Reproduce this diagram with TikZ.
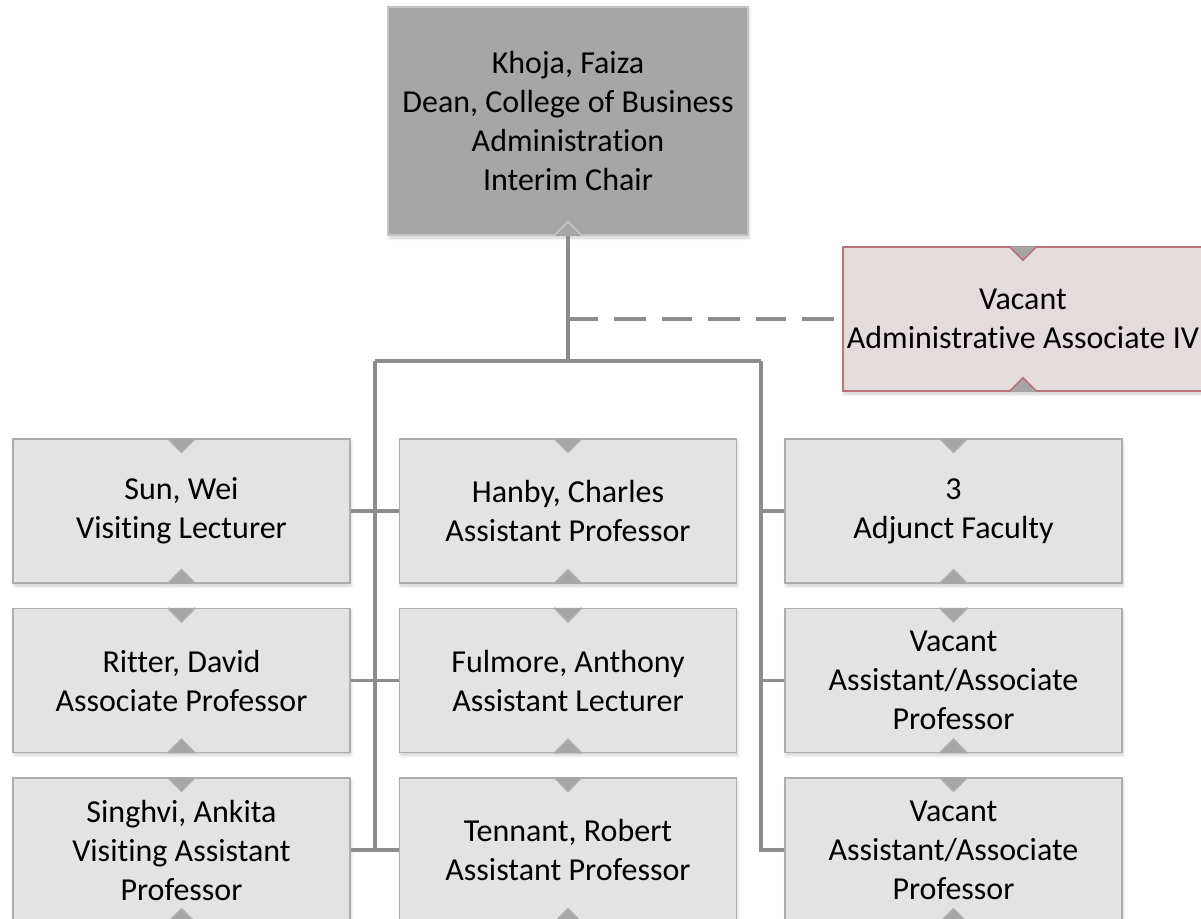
\documentclass[tikz,border=0pt]{standalone}
\usepackage{fontspec}
\setmainfont{Carlito}[Ligatures=NoCommon]
\usepackage{tikz}
\usetikzlibrary{positioning,calc,shadows.blur}

\definecolor{chiefgray}{HTML}{A6A6A6}
\definecolor{chiefline}{HTML}{C4C4C4}
\definecolor{staffgray}{HTML}{E3E3E3}
\definecolor{staffline}{HTML}{ADADAD}
\definecolor{vacfill}{HTML}{E4DCDC}
\definecolor{vacline}{HTML}{B9737A}
\definecolor{linkgray}{HTML}{8C8C8C}

\begin{document}
\begin{tikzpicture}[
    staff/.style={draw=staffline, fill=staffgray, line width=1.5pt, minimum width=337pt, minimum height=144pt, inner sep=0pt, align=center, font=\fontsize{32}{39}\selectfont, blur shadow={shadow xshift=1pt, shadow yshift=-3pt, shadow blur radius=3pt, shadow opacity=18}},
    chief/.style={staff, draw=chiefline, fill=chiefgray, minimum width=360pt, minimum height=228pt},
    vacbox/.style={staff, draw=vacline, fill=vacfill, minimum width=360pt},
    link/.style={draw=linkgray, line width=3.5pt},
    node distance=24pt and 48pt]
    \useasboundingbox (0,0) rectangle (1201pt,-918pt);
    % boxes
    \node[chief] (khoja) at (568pt,-121pt) {Khoja, Faiza\\ Dean, College of Business\\ Administration\\ Interim Chair};
    \node[vacbox] (vacadmin) at (1023pt,-319pt) {Vacant\\ Administrative Associate IV};
    \node[staff] (hanby) at (568pt,-511pt) {Hanby, Charles\\ Assistant Professor};
    \node[staff,left=of hanby] (sun) {Sun, Wei\\ Visiting Lecturer};
    \node[staff,right=47pt of hanby] (adjunct) {3\\ Adjunct Faculty};
    \node[staff,below=of hanby] (fulmore) {Fulmore, Anthony\\ Assistant Lecturer};
    \node[staff,below=of sun] (ritter) {Ritter, David\\ Associate Professor};
    \node[staff,below=of adjunct] (vacprof1) {Vacant\\ Assistant/Associate\\ Professor};
    \node[staff,below=of fulmore] (tennant) {Tennant, Robert\\ Assistant Professor};
    \node[staff,below=of ritter] (singhvi) {Singhvi, Ankita\\ Visiting Assistant\\ Professor};
    \node[staff,below=of vacprof1] (vacprof2) {Vacant\\ Assistant/Associate\\ Professor};
    % notches
    \foreach \n/\c in {vacadmin/vacline,sun/staffline,hanby/staffline,adjunct/staffline,ritter/staffline,fulmore/staffline,vacprof1/staffline,singhvi/staffline,tennant/staffline,vacprof2/staffline} {
        \fill[chiefgray] (\n.north) ++(-14pt,0) -- ++(14pt,-14pt) -- ++(14pt,14pt) -- cycle;
        \draw[\c, line width=1.5pt] (\n.north) ++(-14pt,0) -- ++(14pt,-14pt) -- ++(14pt,14pt);
    }
    \foreach \n/\c in {khoja/chiefline,vacadmin/vacline,sun/staffline,hanby/staffline,adjunct/staffline,ritter/staffline,fulmore/staffline,vacprof1/staffline,singhvi/staffline,tennant/staffline,vacprof2/staffline} {
        \fill[chiefgray] (\n.south) ++(-14pt,0) -- ++(14pt,14pt) -- ++(14pt,-14pt) -- cycle;
        \draw[\c, line width=1.5pt] (\n.south) ++(-14pt,0) -- ++(14pt,14pt) -- ++(14pt,-14pt);
    }
    % connectors
    \coordinate (bus) at ($(khoja.south)+(0,-125pt)$);
    \coordinate (spineL) at ($(sun.east)!0.5!(hanby.west)$);
    \coordinate (spineR) at ($(hanby.east)!0.5!(adjunct.west)$);
    \draw[link] (khoja.south) -- (bus);
    \draw[link, dash pattern=on 30pt off 16pt on 32pt off 16pt] (khoja.south |- vacadmin) -- (vacadmin.west);
    \draw[link] (bus -| spineL) -- (bus -| spineR);
    \draw[link] (bus -| spineL) |- (tennant.west);
    \draw[link] (bus -| spineR) |- (vacprof2.west);
    \draw[link] (sun.east) -- (hanby.west);
    \draw[link] (ritter.east) -- (fulmore.west);
    \draw[link] (singhvi.east) -- (tennant.west);
    \draw[link] (spineR |- adjunct) -- (adjunct.west);
    \draw[link] (spineR |- vacprof1) -- (vacprof1.west);
\end{tikzpicture}
\end{document}
